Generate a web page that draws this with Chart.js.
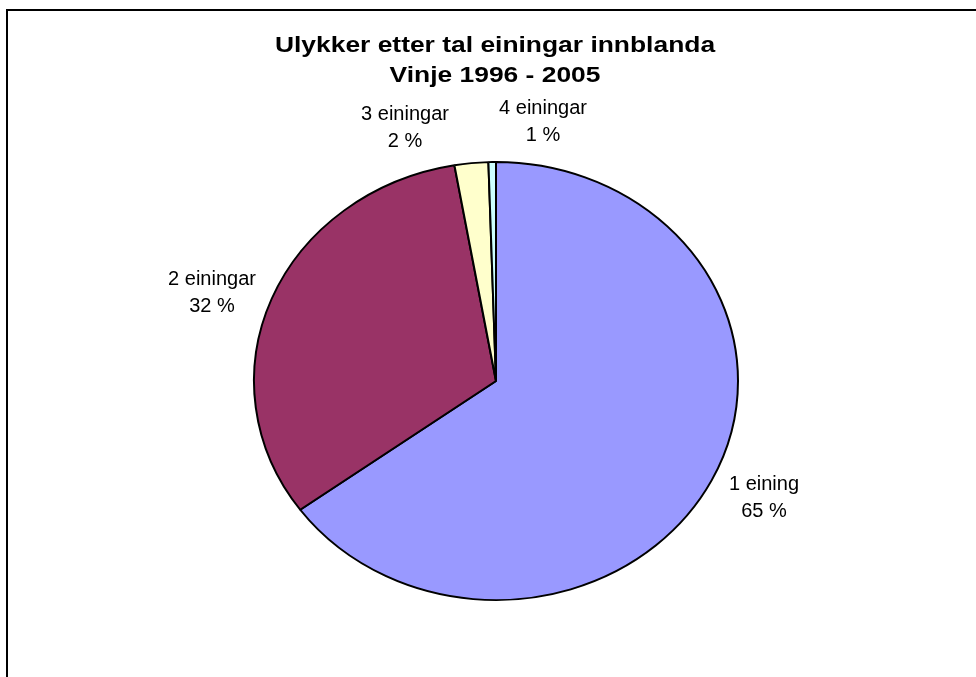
<!DOCTYPE html>
<html>
<head>
<meta charset="utf-8">
<script src="https://cdn.jsdelivr.net/npm/chart.js@4"></script>
<style>
  html, body { margin: 0; padding: 0; background: #fff; }
  #wrap { position: relative; width: 976px; height: 677px; overflow: hidden; }
  #frame { position: absolute; left: 6px; top: 9px; width: 1000px; height: 700px;
           border-left: 2px solid #000; border-top: 2px solid #000; }
  canvas { position: absolute; left: 0; top: 0; }
</style>
</head>
<body>
<div id="wrap">
  <canvas id="pieChart" width="976" height="677"></canvas>
  <div id="frame"></div>
</div>
<script>
const titleLines = ["Ulykker etter tal einingar innblanda", "Vinje 1996 - 2005"];
const categories = ["1 eining", "2 einingar", "3 einingar", "4 einingar"];
const ulykker = [260, 129, 9, 2];
const colors = ["#9999FF", "#993366", "#FFFFCC", "#CCFFFF"];
// where each label sits (centre of the two lines)
const labelPos = [[764, 496], [212, 291], [405, 126], [543, 120]];

const ySquash = 0.905;

// Excel stretched the pie into an ellipse, so squash it vertically
const ellipsePlugin = {
    id: "ellipse",
    beforeDatasetsDraw(chart) {
        const ctx = chart.ctx;
        const a = chart.chartArea;
        const cy = (a.top + a.bottom) / 2;
        ctx.save();
        ctx.translate(0, cy);
        ctx.scale(1, ySquash);
        ctx.translate(0, -cy);
    },
    afterDatasetsDraw(chart) {
        chart.ctx.restore();
    }
};

const textPlugin = {
    id: "texts",
    afterDraw(chart) {
        const ctx = chart.ctx;
        ctx.save();
        ctx.fillStyle = "#000";
        ctx.textAlign = "center";
        ctx.textBaseline = "alphabetic";

        // title (wide bold font in the original)
        ctx.font = "bold 22px 'Liberation Sans', Arial, sans-serif";
        [52, 82].forEach((y, i) => {
            ctx.save();
            ctx.translate(495, y);
            ctx.scale(1.2, 1);
            ctx.fillText(titleLines[i], 0, 0);
            ctx.restore();
        });

        const total = ulykker.reduce((s, v) => s + v, 0);
        ctx.font = "20px 'Liberation Sans', Arial, sans-serif";
        categories.forEach((c, i) => {
            const pct = Math.round(ulykker[i] / total * 100);
            const [x, y] = labelPos[i];
            ctx.fillText(c, x, y - 6);
            ctx.fillText(pct + " %", x, y + 21);
        });
        ctx.restore();
    }
};

new Chart(document.getElementById("pieChart").getContext("2d"), {
    type: "pie",
    data: {
        labels: categories,
        datasets: [{
            data: ulykker,
            backgroundColor: colors,
            borderColor: "#000",
            borderWidth: 2
        }]
    },
    options: {
        responsive: false,
        animation: false,
        layout: { padding: { left: 253, right: 237, top: 138, bottom: 53 } },
        plugins: {
            legend: { display: false },
            tooltip: { enabled: false }
        }
    },
    plugins: [ellipsePlugin, textPlugin]
});
</script>
</body>
</html>
